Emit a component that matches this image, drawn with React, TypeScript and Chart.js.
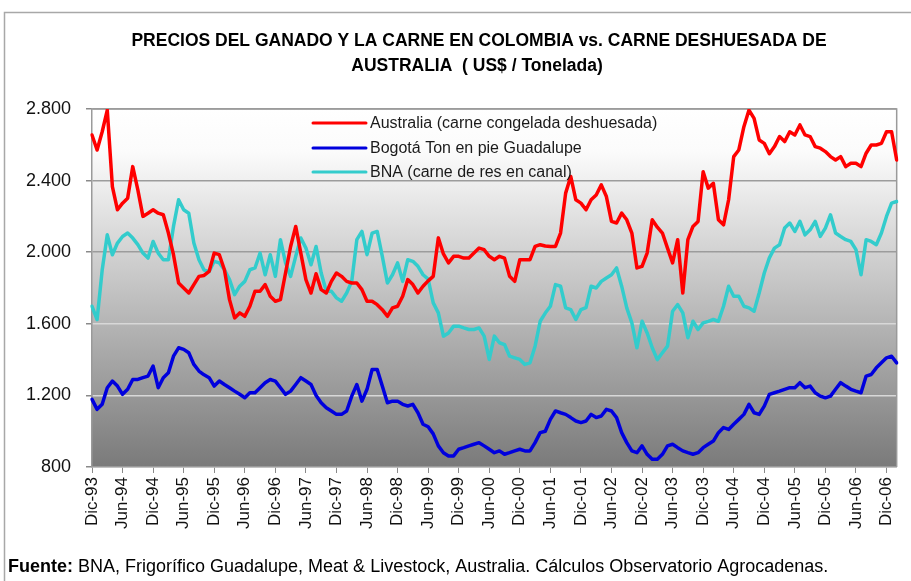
import React, { useEffect, useRef } from 'react';
import { Chart, registerables } from 'chart.js';

Chart.register(...registerables);

// ---- Data ----
const MONTHS = ['Ene', 'Feb', 'Mar', 'Abr', 'May', 'Jun', 'Jul', 'Ago', 'Sep', 'Oct', 'Nov', 'Dic'];
const FIRST_YEAR = 1993;
const FIRST_MONTH = 11; // Dic-93
const N_POINTS = 159; // Dic-93 .. Feb-07
const categories: string[] = Array.from({ length: N_POINTS }, (_, i) => {
  const m = (FIRST_MONTH + i) % 12;
  const y = FIRST_YEAR + Math.floor((FIRST_MONTH + i) / 12);
  return `${MONTHS[m]}-${String(y % 100).padStart(2, '0')}`;
});

const australia = [
  2655, 2571, 2673, 2794, 2367, 2237, 2274, 2302, 2478, 2348, 2200, 2218, 2237, 2218, 2209, 2107,
  1986, 1828, 1800, 1772, 1819, 1865, 1870, 1893, 1995, 1986, 1902, 1735, 1633, 1661, 1642, 1698,
  1782, 1782, 1819, 1754, 1726, 1735, 1884, 2032, 2144, 1995, 1847, 1772, 1880, 1791, 1772, 1837,
  1884, 1865, 1837, 1828, 1828, 1791, 1726, 1726, 1707, 1679, 1642, 1689, 1698, 1754, 1847, 1819,
  1772, 1810, 1840, 1865, 2080, 1990, 1940, 1977, 1977, 1967, 1967, 1995, 2023, 2014, 1977, 1958,
  1977, 1967, 1865, 1837, 1958, 1958, 1958, 2032, 2042, 2035, 2032, 2032, 2107, 2330, 2423, 2293,
  2274, 2237, 2293, 2320, 2376, 2311, 2172, 2163, 2218, 2181, 2107, 1912, 1921, 1995, 2181, 2140,
  2107, 2023, 1940, 2070, 1772, 2070, 2144, 2172, 2450, 2358, 2385, 2181, 2153, 2293, 2534, 2571,
  2701, 2794, 2748, 2627, 2608, 2550, 2590, 2646, 2618, 2673, 2655, 2711, 2655, 2646, 2590, 2581,
  2562, 2534, 2515, 2534, 2478, 2497, 2497, 2478, 2553, 2599, 2599, 2608, 2673, 2673, 2515,
];

const bogota = [
  1178, 1122, 1150, 1243, 1280, 1252, 1206, 1234, 1289, 1289, 1299, 1308, 1364, 1243, 1299, 1326,
  1419, 1466, 1457, 1438, 1373, 1336, 1315, 1299, 1252, 1280, 1261, 1243, 1224, 1206, 1187, 1215,
  1215, 1243, 1271, 1289, 1280, 1243, 1206, 1224, 1261, 1299, 1280, 1261, 1200, 1159, 1131, 1113,
  1094, 1094, 1113, 1196, 1261, 1168, 1234, 1345, 1345, 1252, 1159, 1168, 1168, 1150, 1141, 1150,
  1103, 1039, 1025, 985, 918, 880, 862, 862, 899, 908, 918, 927, 936, 918, 899, 880,
  890, 871, 880, 890, 899, 890, 890, 936, 992, 1000, 1066, 1113, 1103, 1094, 1076, 1057,
  1048, 1057, 1094, 1076, 1085, 1122, 1113, 1076, 992, 936, 890, 880, 918, 871, 843, 843,
  871, 918, 927, 908, 890, 880, 871, 880, 908, 927, 945, 992, 1020, 1010, 1039, 1066,
  1094, 1150, 1103, 1094, 1140, 1206, 1215, 1224, 1234, 1243, 1243, 1271, 1243, 1252, 1215, 1196,
  1187, 1196, 1234, 1271, 1252, 1234, 1224, 1215, 1308, 1317, 1354, 1382, 1410, 1419, 1382,
];

const bna = [
  1698, 1624, 1900, 2097, 1986, 2051, 2088, 2107, 2079, 2042, 1995, 1967, 2060, 1995, 1958, 1958,
  2144, 2293, 2237, 2218, 2051, 1958, 1900, 1893, 1949, 1940, 1902, 1847, 1763, 1810, 1837, 1902,
  1912, 1995, 1874, 1986, 1865, 2070, 1940, 1865, 1977, 2079, 2023, 1930, 2032, 1884, 1782, 1782,
  1745, 1726, 1772, 1837, 2070, 2116, 1986, 2107, 2116, 1977, 1828, 1874, 1940, 1837, 1958, 1949,
  1921, 1874, 1850, 1717, 1661, 1531, 1549, 1587, 1587, 1577, 1568, 1568, 1577, 1531, 1401, 1531,
  1494, 1484, 1419, 1410, 1401, 1373, 1382, 1475, 1614, 1660, 1698, 1819, 1810, 1689, 1679, 1624,
  1679, 1690, 1810, 1800, 1837, 1856, 1874, 1912, 1810, 1689, 1605, 1466, 1614, 1549, 1466, 1400,
  1438, 1475, 1670, 1707, 1661, 1522, 1614, 1568, 1605, 1614, 1624, 1614, 1698, 1810, 1754, 1754,
  1698, 1689, 1670, 1772, 1884, 1968, 2023, 2042, 2135, 2163, 2116, 2172, 2097, 2125, 2172, 2088,
  2135, 2209, 2107, 2088, 2070, 2060, 2014, 1874, 2070, 2060, 2042, 2107, 2200, 2274, 2283,
];

const seriesNames = [
  'Australia (carne congelada deshuesada)',
  'Bogotá Ton en pie Guadalupe',
  'BNA (carne de res en canal)',
];
const seriesColors = ['#ff0000', '#0000dd', '#33cccc'];

const yMin = 800;
const yMax = 2800;
const yStep = 400;
const labelEvery = 6;

const titleLines = [
  'PRECIOS DEL GANADO Y LA CARNE EN COLOMBIA vs. CARNE DESHUESADA DE',
  'AUSTRALIA  ( US$ / Tonelada)',
];
const sourceBold = 'Fuente:';
const sourceText = ' BNA, Frigorífico Guadalupe, Meat & Livestock, Australia. Cálculos Observatorio Agrocadenas.';

const FONT = '"Liberation Sans", Arial, sans-serif';

function fmtThousands(v: number): string {
  if (v >= 1000) {
    const th = Math.floor(v / 1000);
    const rest = String(v % 1000).padStart(3, '0');
    return `${th}.${rest}`;
  }
  return String(v);
}

const decorPlugin = {
  id: 'decor',
  beforeDraw(chart: any) {
    const { ctx, chartArea: a, width, height } = chart;
    ctx.save();
    ctx.fillStyle = '#ffffff';
    ctx.fillRect(0, 0, width, height);
    // outer frame
    ctx.strokeStyle = '#a8a8a8';
    ctx.lineWidth = 1.5;
    ctx.beginPath();
    ctx.moveTo(4.5, height + 2);
    ctx.lineTo(4.5, 12.5);
    ctx.lineTo(width + 2, 12.5);
    ctx.stroke();
    // plot background gradient
    const g = ctx.createLinearGradient(0, a.top, 0, a.bottom);
    g.addColorStop(0, '#ffffff');
    g.addColorStop(0.12, '#fbfbfb');
    g.addColorStop(1, '#7a7a7a');
    ctx.fillStyle = g;
    ctx.fillRect(a.left, a.top, a.right - a.left, a.bottom - a.top);
    ctx.restore();
  },
  beforeDatasetsDraw(chart: any) {
    const { ctx, chartArea: a } = chart;
    ctx.save();
    ctx.strokeStyle = '#9a9a9a';
    ctx.lineWidth = 1.5;
    ctx.beginPath();
    ctx.moveTo(a.left, a.top);
    ctx.lineTo(a.right, a.top);
    ctx.lineTo(a.right, a.bottom);
    ctx.stroke();
    ctx.restore();
  },
  afterDraw(chart: any) {
    const { ctx } = chart;
    ctx.save();
    // title
    ctx.fillStyle = '#000000';
    ctx.textAlign = 'center';
    ctx.textBaseline = 'middle';
    ctx.font = `bold 17.5px ${FONT}`;
    ctx.fillText(titleLines[0], 479, 41);
    ctx.fillText(titleLines[1], 477, 66);
    // legend
    const rows = [123, 148, 172];
    chart.data.datasets.forEach((ds: any, i: number) => {
      ctx.strokeStyle = ds.borderColor;
      ctx.lineWidth = 3;
      ctx.lineCap = 'round';
      ctx.beginPath();
      ctx.moveTo(313, rows[i]);
      ctx.lineTo(366, rows[i]);
      ctx.stroke();
      ctx.fillStyle = '#1a1a1a';
      ctx.textAlign = 'left';
      ctx.font = `16px ${FONT}`;
      ctx.fillText(ds.label, 370, rows[i] + 1);
    });
    // source
    ctx.textAlign = 'left';
    ctx.fillStyle = '#000000';
    ctx.font = `bold 18px ${FONT}`;
    ctx.fillText(sourceBold, 8, 567);
    const w = ctx.measureText(sourceBold).width;
    ctx.font = `18px ${FONT}`;
    ctx.fillText(sourceText, 8 + w, 567);
    ctx.restore();
  },
};

export default function App() {
  const canvasRef = useRef<HTMLCanvasElement | null>(null);

  useEffect(() => {
    if (!canvasRef.current) return;
    const data = [australia, bogota, bna];
    const chart = new Chart(canvasRef.current, {
      type: 'line',
      data: {
        labels: categories,
        datasets: data.map((d, i) => ({
          label: seriesNames[i],
          data: d,
          borderColor: seriesColors[i],
          backgroundColor: seriesColors[i],
          borderWidth: 3.5,
          pointRadius: 0,
          pointHoverRadius: 0,
          tension: 0,
          borderJoinStyle: 'round' as const,
          borderCapStyle: 'round' as const,
          fill: false,
        })),
      },
      options: {
        responsive: false,
        animation: false,
        devicePixelRatio: 1,
        layout: { padding: { left: 0, top: 109, right: 8, bottom: 0 } },
        plugins: {
          legend: { display: false },
          title: { display: false },
          tooltip: { enabled: false },
        },
        scales: {
          x: {
            type: 'category',
            offset: false,
            afterFit: (s: any) => {
              s.height = 114;
            },
            grid: {
              display: true,
              drawOnChartArea: false,
              drawTicks: true,
              tickLength: 6,
              color: '#8a8a8a',
              lineWidth: 1,
            },
            border: { display: true, color: '#9a9a9a', width: 1.5 },
            ticks: {
              autoSkip: false,
              minRotation: 90,
              maxRotation: 90,
              padding: 4,
              color: '#111111',
              font: { family: FONT, size: 17 },
              callback: function (this: any, value: any, index: number) {
                return index % labelEvery === 0 ? this.getLabelForValue(value) : null;
              },
            },
          },
          y: {
            min: yMin,
            max: yMax,
            afterFit: (s: any) => {
              s.width = 92;
            },
            grid: {
              color: (c: any) => (c.tick && c.tick.value >= 2000 ? '#9c9c9c' : '#d8d8d8'),
              tickColor: '#8a8a8a',
              lineWidth: 1.5,
              drawTicks: true,
              tickLength: 6,
            },
            border: { display: true, color: '#9a9a9a', width: 1.5 },
            ticks: {
              stepSize: yStep,
              padding: 15,
              color: '#111111',
              font: { family: FONT, size: 18 },
              callback: (v: any) => fmtThousands(Number(v)),
            },
          },
        },
      },
      plugins: [decorPlugin],
    });
    return () => chart.destroy();
  }, []);

  return (
    <div style={{ position: 'absolute', left: 0, top: 0, width: 911, height: 581, background: '#fff' }}>
      <canvas ref={canvasRef} width={911} height={581} style={{ width: 911, height: 581, display: 'block' }} />
    </div>
  );
}
